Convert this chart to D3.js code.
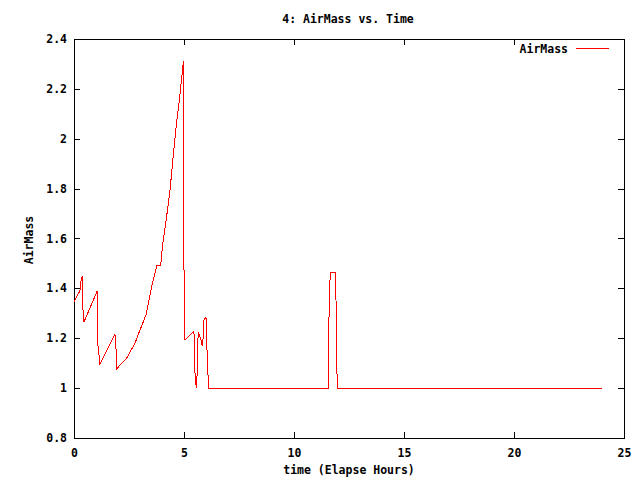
<!DOCTYPE html>
<html><head><meta charset="utf-8">
<script src="https://cdn.jsdelivr.net/npm/d3@7"></script>
<style>
body{margin:0;background:#fff;}
text{font-family:"DejaVu Sans Mono","Liberation Mono",monospace;font-size:11.5px;font-weight:bold;fill:#000;}
</style></head>
<body><svg id="c" width="640" height="480"></svg>
<script>
const hours = [0, 0.27, 0.32, 0.38, 0.41, 0.45, 1.06, 1.09, 1.18, 1.86, 1.91, 1.95, 2.09, 2.39, 2.77, 3.0, 3.27, 3.53, 3.76, 3.95, 3.96, 4.03, 4.21, 4.36, 4.51, 4.67, 4.79, 4.89, 4.94, 4.97, 4.985, 5.0, 5.01, 5.05, 5.45, 5.47, 5.50, 5.56, 5.60, 5.63, 5.65, 5.75, 5.83, 5.87, 5.90, 6.0, 6.02, 6.08, 6.12, 11.55, 11.57, 11.60, 11.65, 11.88, 11.91, 11.94, 11.97, 23.98];
const airmass = [1.347, 1.39, 1.43, 1.451, 1.31, 1.265, 1.39, 1.17, 1.095, 1.216, 1.157, 1.077, 1.093, 1.12, 1.18, 1.233, 1.293, 1.407, 1.49, 1.49, 1.52, 1.574, 1.688, 1.79, 1.93, 2.07, 2.155, 2.24, 2.28, 2.313, 2.035, 1.474, 1.193, 1.193, 1.228, 1.19, 1.06, 1.0, 1.06, 1.19, 1.224, 1.2, 1.17, 1.20, 1.273, 1.284, 1.213, 1.073, 1.0, 1.0, 1.117, 1.35, 1.464, 1.464, 1.35, 1.117, 1.0, 1.0];
const xTicks = [0, 5, 10, 15, 20, 25];
const yTicks = [0.8, 1.0, 1.2, 1.4, 1.6, 1.8, 2.0, 2.2, 2.4];
const title = "4: AirMass vs. Time";
const xLabel = "time (Elapse Hours)";
const yLabel = "AirMass";
const seriesName = "AirMass";

const svg = d3.select("#c");
const L = 74, R = 624, T = 39, B = 438;
const x = d3.scaleLinear().domain([0, 25]).range([L, R]);
const y = d3.scaleLinear().domain([0.8, 2.4]).range([B, T]);
const fmt = d => String(+d.toFixed(1));

const g = svg.append("g").attr("shape-rendering", "crispEdges");
const tl = 6;
g.selectAll(".xb").data(xTicks).join("line").attr("class","xb").attr("x1", d => Math.round(x(d)) + 0.5).attr("x2", d => Math.round(x(d)) + 0.5).attr("y1", B).attr("y2", B - tl).attr("stroke", "#000");
g.selectAll(".xt").data(xTicks).join("line").attr("class","xt").attr("x1", d => Math.round(x(d)) + 0.5).attr("x2", d => Math.round(x(d)) + 0.5).attr("y1", T).attr("y2", T + tl).attr("stroke", "#000");
g.selectAll(".yl").data(yTicks).join("line").attr("class","yl").attr("x1", L).attr("x2", L + tl).attr("y1", d => Math.round(y(d)) + 0.5).attr("y2", d => Math.round(y(d)) + 0.5).attr("stroke", "#000");
g.selectAll(".yr").data(yTicks).join("line").attr("class","yr").attr("x1", R).attr("x2", R - tl).attr("y1", d => Math.round(y(d)) + 0.5).attr("y2", d => Math.round(y(d)) + 0.5).attr("stroke", "#000");
g.append("rect").attr("x", L + 0.5).attr("y", T + 0.5).attr("width", R - L).attr("height", B - T).attr("fill", "none").attr("stroke", "#000");

svg.selectAll(".xlab").data(xTicks).join("text").attr("class","xlab").attr("x", d => x(d) + 0.5).attr("y", B + 19).attr("text-anchor", "middle").text(d => d);
svg.selectAll(".ylab").data(yTicks).join("text").attr("class","ylab").attr("x", 67).attr("y", d => y(d) + 4).attr("text-anchor", "end").text(fmt);

svg.append("text").attr("x", 348).attr("y", 23).attr("text-anchor", "middle").text(title);
svg.append("text").attr("x", 349).attr("y", 474).attr("text-anchor", "middle").text(xLabel);
svg.append("text").attr("transform", "translate(33,240) rotate(-90)").attr("text-anchor", "middle").text(yLabel);

const pts = hours.map((h, i) => [h, airmass[i]]);
svg.append("path").datum(pts).attr("d", d3.line().x(d => x(d[0])).y(d => y(d[1])))
  .attr("fill", "none").attr("stroke", "#ff0000").attr("stroke-width", 1).attr("shape-rendering", "crispEdges");

svg.append("text").attr("x", 568).attr("y", 53).attr("text-anchor", "end").text(seriesName);
svg.append("line").attr("x1", 576).attr("x2", 609).attr("y1", 48.5).attr("y2", 48.5).attr("stroke", "#ff0000").attr("shape-rendering", "crispEdges");
</script></body></html>
